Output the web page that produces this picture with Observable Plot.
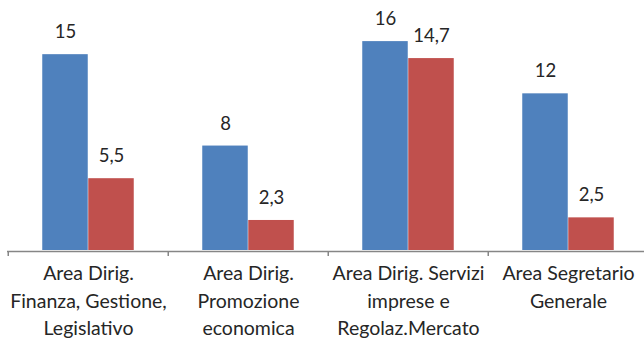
<!DOCTYPE html>
<html>
<head>
<meta charset="utf-8">
<script src="https://cdn.jsdelivr.net/npm/d3@7"></script>
<script src="https://cdn.jsdelivr.net/npm/@observablehq/plot@0.6"></script>
<style>
  html, body { margin: 0; padding: 0; background: #fff; }
  #chart svg { display: block; }
</style>
</head>
<body>
<div id="chart"></div>
<script>
// Aree dirigenziali
const categories = [
  "Area Dirig. Finanza, Gestione, Legislativo",
  "Area Dirig. Promozione economica",
  "Area Dirig. Servizi imprese e Regolaz.Mercato",
  "Area Segretario Generale"
];
// Etichette dell'asse, su più righe
const tickLabels = [
  "Area Dirig.\nFinanza, Gestione,\nLegislativo",
  "Area Dirig.\nPromozione\neconomica",
  "Area Dirig. Servizi\nimprese e\nRegolaz.Mercato",
  "Area Segretario\nGenerale"
];
const seriesA = [15, 8, 16, 12];
const seriesB = [5.5, 2.3, 14.7, 2.5];

const blue = "#4F81BD";
const red = "#C0504D";
const fmt = (v) => String(v).replace(".", ",");

const rowsA = categories.map((c, i) => ({cat: c, value: seriesA[i]}));
const rowsB = categories.map((c, i) => ({cat: c, value: seriesB[i]}));

// band geometry: each category step holds a pair of bars
const W = 644, mL = 7, mR = -5;
const step = (W - mL - mR) / categories.length;
const barW = 46;
const gap = (step - 2 * barW) / 2;

const font = "Lato, 'Open Sans', sans-serif";

const chart = Plot.plot({
  width: W,
  height: 345,
  marginLeft: mL,
  marginRight: mR,
  marginTop: 15,
  marginBottom: 95,
  style: {fontFamily: font, background: "#fff", overflow: "hidden"},
  x: {domain: categories, padding: 0, axis: null},
  y: {domain: [0, 18], axis: null},
  marks: [
    Plot.barY(rowsA, {x: "cat", y: "value", fill: blue, insetLeft: gap, insetRight: gap + barW}),
    Plot.barY(rowsB, {x: "cat", y: "value", fill: red, insetLeft: gap + barW, insetRight: gap}),
    Plot.text(rowsA, {x: "cat", y: "value", text: (d) => fmt(d.value), dx: -barW / 2, dy: -16.5,
      lineAnchor: "bottom", fontSize: 18.5, fill: "#262626"}),
    Plot.text(rowsB, {x: "cat", y: "value", text: (d) => fmt(d.value), dx: barW / 2, dy: -16.5,
      lineAnchor: "bottom", fontSize: 18.5, fill: "#262626"}),
    // category axis: baseline and boundary ticks
    Plot.ruleY([0], {stroke: "#868686", strokeWidth: 1.5, dy: 1}),
    Plot.ruleX(categories, {x: (d) => d, y1: 0, y2: 0, dx: -step / 2, insetTop: 1, insetBottom: -6,
      stroke: "#868686", strokeWidth: 1.5}),
    Plot.text(categories, {x: (d) => d, y: 0, text: (d, i) => tickLabels[i], lineAnchor: "top",
      dy: 10, lineHeight: 1.41, fontSize: 19.5, fill: "#262626"})
  ]
});
document.getElementById("chart").append(chart);
</script>
</body>
</html>
